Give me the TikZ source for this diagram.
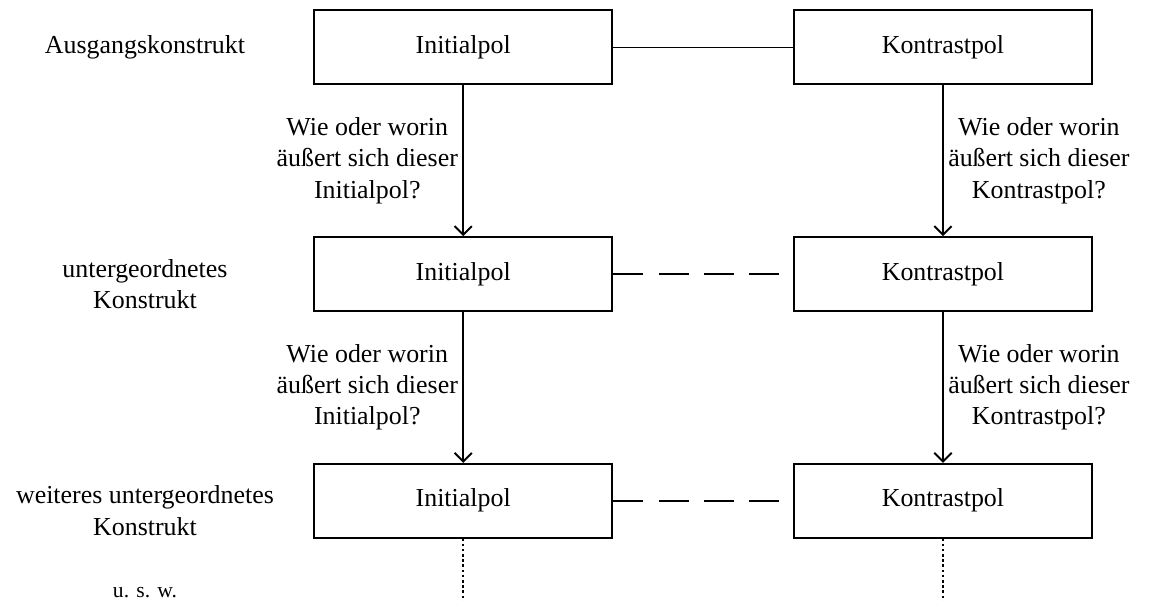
\documentclass[tikz,border=0pt]{standalone}
\usepackage{fontspec}
\setmainfont{Liberation Serif}
\usetikzlibrary{arrows.meta, positioning}
\tikzstyle{pol} = [rectangle, minimum width=4.86cm, minimum height=1.2cm, text centered, draw=black, line width=0.9pt, font=\fontsize{12}{14.5}\selectfont]
\tikzstyle{konstrukt} = [align=center, font=\fontsize{12}{14.5}\selectfont]
\tikzstyle{frage} = [align=center, inner sep=2pt, font=\fontsize{12}{14.5}\selectfont]
\tikzstyle{arrow} = [line width=0.9pt, -{Straight Barb[length=4pt,width=8pt]}]
\tikzstyle{verbindung} = [line width=0.6pt]
\tikzstyle{strich} = [line width=0.9pt, dash pattern=on 13.8pt off 7.2pt]
\tikzstyle{punkte} = [line width=0.7pt, dash pattern=on 1.2pt off 1.2pt]

\begin{document}
\begin{tikzpicture}[node distance=3.69cm]
	\useasboundingbox (-7.54,0.77) rectangle (11.18,-9.01);
	% Polpaare
	\node (I1) [pol] {Initialpol};
	\node (K1) [pol, right of=I1, node distance=7.81cm] {Kontrastpol};
	\node (I2) [pol, below of=I1] {Initialpol};
	\node (K2) [pol, right of=I2, node distance=7.81cm] {Kontrastpol};
	\node (I3) [pol, below of=I2] {Initialpol};
	\node (K3) [pol, right of=I3, node distance=7.81cm] {Kontrastpol};
	% Ebenen
	\node (A) [konstrukt, left of=I1, node distance=5.18cm] {Ausgangskonstrukt};
	\node (U) [konstrukt, left of=I2, node distance=5.18cm, yshift=-0.16cm] {untergeordnetes\\Konstrukt};
	\node (W) [konstrukt, left of=I3, node distance=5.18cm, yshift=-0.16cm] {weiteres untergeordnetes\\Konstrukt};
	\node (usw) [left of=I3, node distance=5.18cm, yshift=-1.49cm, font=\fontsize{10}{12}\selectfont] {u. s. w.};
	\path (I3.south) ++(0,-1.2) coordinate (dI);
	\path (K3.south) ++(0,-1.2) coordinate (dK);
	% Verbindungen
	\draw [verbindung] (I1) -- (K1);
	\draw [strich] (I2) -- (K2);
	\draw [strich] (I3) -- (K3);
	\draw [arrow] (I1) -- node[frage, left] {Wie oder worin\\äußert sich dieser\\Initialpol?} (I2);
	\draw [arrow] (K1) -- node[frage, right] {Wie oder worin\\äußert sich dieser\\Kontrastpol?} (K2);
	\draw [arrow] (I2) -- node[frage, left] {Wie oder worin\\äußert sich dieser\\Initialpol?} (I3);
	\draw [arrow] (K2) -- node[frage, right] {Wie oder worin\\äußert sich dieser\\Kontrastpol?} (K3);
	\draw [punkte] (I3) -- (dI);
	\draw [punkte] (K3) -- (dK);
\end{tikzpicture}
\end{document}
